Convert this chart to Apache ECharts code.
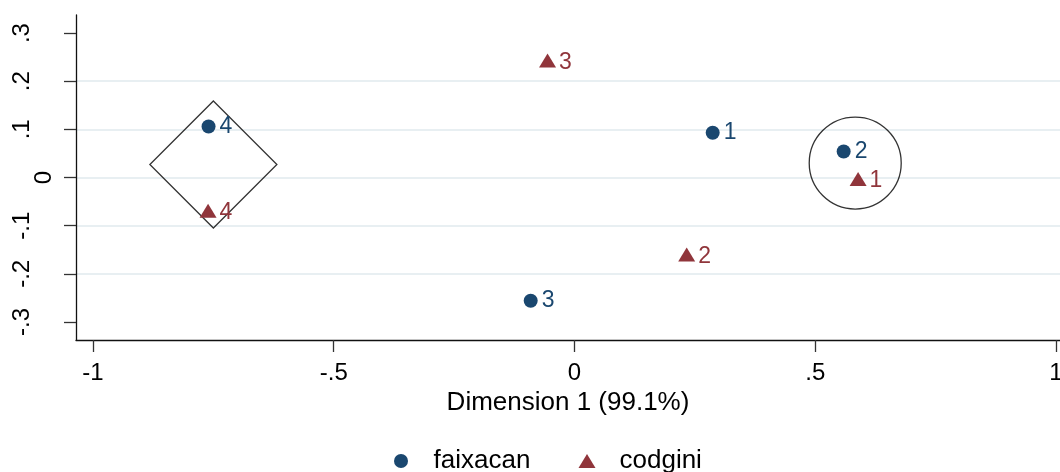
<!DOCTYPE html>
<html>
<head>
<meta charset="utf-8">
<script src="https://cdn.jsdelivr.net/npm/echarts@6/dist/echarts.min.js"></script>
<style>
  html, body { margin: 0; padding: 0; background: #ffffff; }
  #chart { width: 1060px; height: 472px; }
</style>
</head>
<body>
<div id="chart"></div>
<script>
// Correspondence analysis map: row points (faixacan) and column points (codgini)
const pointLabels = ['1', '2', '3', '4'];

const faixacanX = [0.287, 0.559, -0.091, -0.760];
const faixacanY = [0.093, 0.054, -0.256, 0.106];

const codginiX = [0.589, 0.233, -0.056, -0.761];
const codginiY = [-0.003, -0.160, 0.243, -0.069];

// Groups outlined on the map: diamond around category 4, circle around faixacan 2 / codgini 1
const diamondCenter = [-0.750, 0.027];
const circleCenter = [0.583, 0.030];

const xTicks = [-1, -0.5, 0, 0.5, 1];
const yTicks = [-0.3, -0.2, -0.1, 0, 0.1, 0.2, 0.3];

const xTitle = 'Dimension 1 (99.1%)';
const seriesNames = ['faixacan', 'codgini'];

const NAVY = '#1a476f';
const MAROON = '#90353b';
const FONT = '"Liberation Sans", Arial, Helvetica, sans-serif';

// Stata-style tick text: leading zero dropped (.5, -.3)
function tickText(v) {
  if (v === 0) return '0';
  return String(v).replace('0.', '.');
}

function pointsOf(xs, ys) {
  return xs.map((x, i) => ({ value: [x, ys[i]], name: pointLabels[i] }));
}

const chart = echarts.init(document.getElementById('chart'), null, { renderer: 'canvas' });

const option = {
  backgroundColor: '#ffffff',
  animation: false,
  textStyle: { fontFamily: FONT },
  grid: { left: 76, top: 15, right: 0, height: 325, containLabel: false, outerBoundsMode: 'none' },
  xAxis: {
    type: 'value',
    min: -1.0353,
    max: 1.0083,
    axisLine: { show: true, onZero: false, lineStyle: { color: '#111', width: 1.3 } },
    axisTick: { show: true, inside: false, length: 12, customValues: xTicks,
                lineStyle: { color: '#333', width: 1.3 } },
    axisLabel: { show: true, customValues: xTicks, formatter: tickText, margin: 21,
                 fontSize: 24, color: '#000', fontFamily: FONT,
                 showMinLabel: true, showMaxLabel: true, hideOverlap: false },
    splitLine: { show: false },
    name: xTitle,
    nameLocation: 'middle',
    nameGap: 47,
    nameTextStyle: { fontSize: 26, color: '#000', fontFamily: FONT }
  },
  yAxis: [
    {
      type: 'value',
      min: -0.3375,
      max: 0.3375,
      axisLine: { show: true, onZero: false, lineStyle: { color: '#111', width: 1.3 } },
      axisTick: { show: true, inside: false, length: 12, customValues: yTicks,
                  lineStyle: { color: '#333', width: 1.3 } },
      axisLabel: { show: true, customValues: yTicks.filter(v => v !== 0),
                   formatter: tickText, rotate: 90, margin: 42,
                   fontSize: 24, color: '#000', fontFamily: FONT },
      splitLine: { show: true, showMinLine: false, showMaxLine: false,
                   lineStyle: { color: '#e8eff2', width: 1.8 } }
    },
    {
      type: 'value',
      min: -0.3375,
      max: 0.3375,
      position: 'left',
      axisLine: { show: false },
      axisTick: { show: false },
      axisLabel: { show: true, customValues: [0], formatter: tickText, rotate: 90, margin: 20,
                   fontSize: 24, color: '#000', fontFamily: FONT },
      splitLine: { show: false }
    }
  ],
  legend: [
    {
      data: [seriesNames[0]], left: 389, top: 443,
      itemWidth: 17, itemHeight: 14,
      textStyle: { fontSize: 26, color: '#000', fontFamily: FONT, padding: [0, 0, 0, 19] }
    },
    {
      data: [seriesNames[1]], left: 573.5, top: 443,
      itemWidth: 17, itemHeight: 14,
      textStyle: { fontSize: 26, color: '#000', fontFamily: FONT, padding: [0, 0, 0, 19] }
    }
  ],
  series: [
    {
      type: 'scatter',
      silent: true,
      symbol: 'diamond',
      symbolSize: [127, 127],
      itemStyle: { color: 'rgba(0,0,0,0)', borderColor: '#000', borderWidth: 1.3 },
      data: [diamondCenter],
      z: 1
    },
    {
      type: 'scatter',
      silent: true,
      symbol: 'circle',
      symbolSize: 92,
      itemStyle: { color: 'rgba(0,0,0,0)', borderColor: '#000', borderWidth: 1.3 },
      data: [circleCenter],
      z: 1
    },
    {
      name: seriesNames[0],
      type: 'scatter',
      symbol: 'circle',
      symbolSize: 14,
      itemStyle: { color: NAVY, opacity: 1 },
      label: { show: true, position: 'right', distance: 4, formatter: p => p.name,
               fontSize: 23, color: NAVY, fontFamily: FONT },
      data: pointsOf(faixacanX, faixacanY),
      z: 3
    },
    {
      name: seriesNames[1],
      type: 'scatter',
      symbol: 'triangle',
      symbolSize: [17, 14],
      itemStyle: { color: MAROON, opacity: 1 },
      label: { show: true, position: 'right', distance: 3, offset: [0, 2], formatter: p => p.name,
               fontSize: 23, color: MAROON, fontFamily: FONT },
      data: pointsOf(codginiX, codginiY),
      z: 3
    }
  ]
};

chart.setOption(option);
</script>
</body>
</html>
